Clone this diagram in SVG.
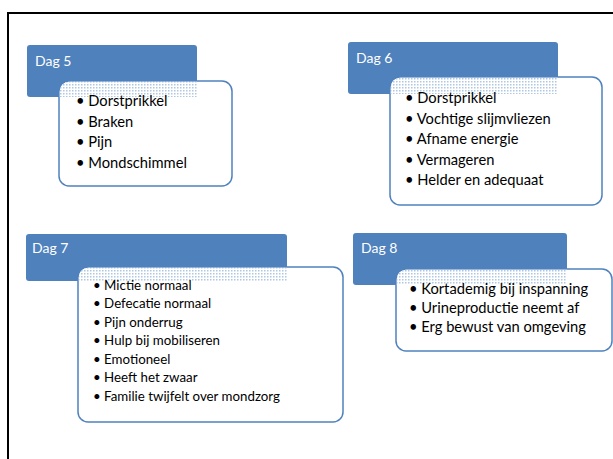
<svg xmlns="http://www.w3.org/2000/svg" width="613" height="459" viewBox="0 0 613 459">
<defs>
<pattern id="dots" width="3" height="3" patternUnits="userSpaceOnUse">
<rect width="3" height="3" fill="#ffffff"/>
<rect x="0" y="0" width="1.5" height="1.5" fill="#4f81bd" fill-opacity="0.45"/>
</pattern>
</defs>
<style>
.hdr{fill:#4f81bd;}
.box{fill:#ffffff;stroke:#4f81bd;stroke-width:1.5;}
.dot{fill:url(#dots);}
.ttl{font-family:Lato,"Liberation Sans",sans-serif;font-size:14px;fill:#ffffff;}
.li{font-family:Lato,"Liberation Sans",sans-serif;font-size:14.7px;fill:#000000;}
.li7{font-family:Lato,"Liberation Sans",sans-serif;font-size:13.3px;fill:#000000;}
</style>
<rect width="613" height="459" fill="#ffffff"/>
<path d="M8,459 V13 H613" fill="none" stroke="#000000" stroke-width="2"/>

<g id="dag5">
<rect class="hdr" x="27" y="45" width="170" height="52" rx="3"/>
<text class="ttl" x="35" y="66">Dag 5</text>
<rect class="box" x="59" y="81" width="173" height="105" rx="10"/>
<path class="dot" d="M59.8,97 V91 A9.2,9.2 0 0 1 69,81.8 H197 V97 Z"/>
<text class="li" x="76" y="106">• Dorstprikkel</text>
<text class="li" x="76" y="127">• Braken</text>
<text class="li" x="76" y="147">• Pijn</text>
<text class="li" x="76" y="168">• Mondschimmel</text>
</g>

<g id="dag6">
<rect class="hdr" x="348" y="42" width="210" height="52" rx="3"/>
<text class="ttl" x="356" y="63">Dag 6</text>
<rect class="box" x="390" y="77" width="212" height="128" rx="10"/>
<path class="dot" d="M390.8,94 V87 A9.2,9.2 0 0 1 400,77.8 H558 V94 Z"/>
<text class="li" x="405" y="103">• Dorstprikkel</text>
<text class="li" x="405" y="124">• Vochtige slijmvliezen</text>
<text class="li" x="405" y="144">• Afname energie</text>
<text class="li" x="405" y="165">• Vermageren</text>
<text class="li" x="405" y="185">• Helder en adequaat</text>
</g>

<g id="dag7">
<rect class="hdr" x="26" y="234" width="261" height="47" rx="3"/>
<text class="ttl" x="32" y="253">Dag 7</text>
<rect class="box" x="78" y="267" width="265" height="155" rx="10"/>
<path class="dot" d="M78.8,281 V277 A9.2,9.2 0 0 1 88,267.8 H287 V281 Z"/>
<text class="li7" x="93" y="290">• Mictie normaal</text>
<text class="li7" x="93" y="308">• Defecatie normaal</text>
<text class="li7" x="93" y="327">• Pijn onderrug</text>
<text class="li7" x="93" y="345">• Hulp bij mobiliseren</text>
<text class="li7" x="93" y="364">• Emotioneel</text>
<text class="li7" x="93" y="382">• Heeft het zwaar</text>
<text class="li7" x="93" y="401">• Familie twijfelt over mondzorg</text>
</g>

<g id="dag8">
<rect class="hdr" x="353" y="233" width="214" height="52" rx="3"/>
<text class="ttl" x="361" y="253">Dag 8</text>
<rect class="box" x="396" y="269" width="216" height="82" rx="10"/>
<path class="dot" d="M396.8,285 V279 A9.2,9.2 0 0 1 406,269.8 H567 V285 Z"/>
<text class="li" x="409" y="294">• Kortademig bij inspanning</text>
<text class="li" x="409" y="313">• Urineproductie neemt af</text>
<text class="li" x="409" y="332">• Erg bewust van omgeving</text>
</g>

<g id="connectors"></g>
</svg>
